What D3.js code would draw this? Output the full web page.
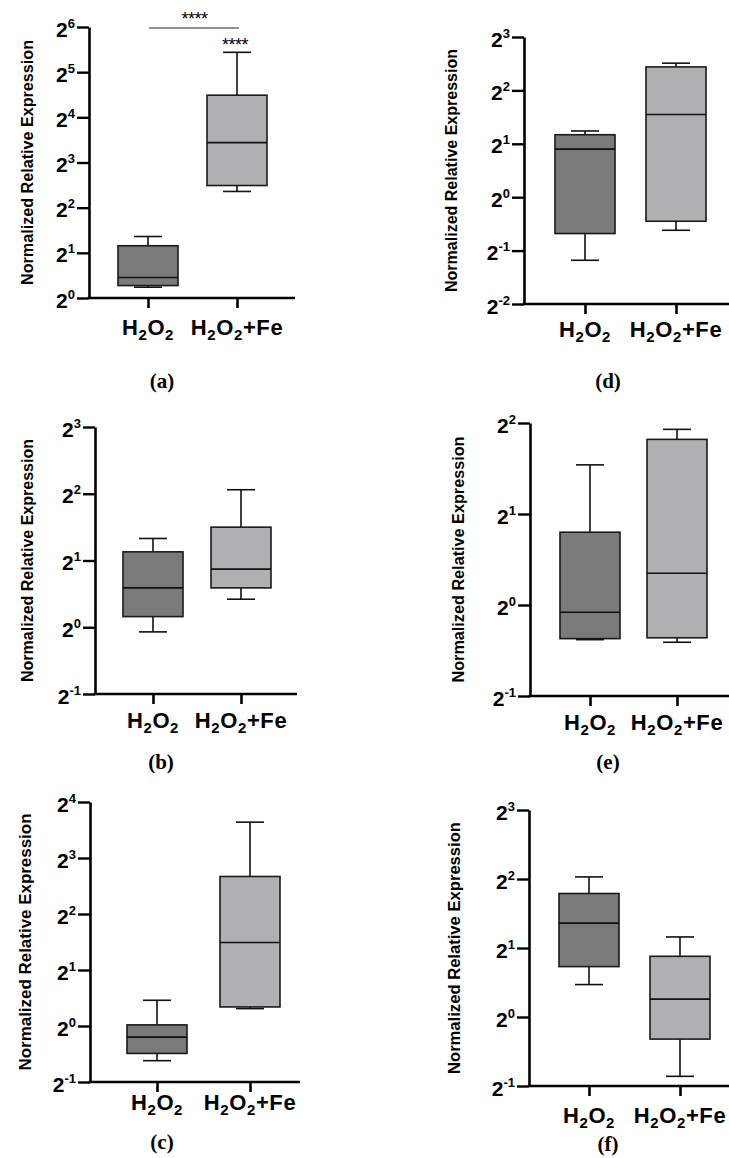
<!DOCTYPE html>
<html>
<head>
<meta charset="utf-8">
<script src="https://cdn.jsdelivr.net/npm/d3@7"></script>
<style>
  body { margin: 0; background: white; }
  svg { display: block; }
</style>
</head>
<body>
<div id="figure"></div>
<script>
var svgWidth = 729;
var svgHeight = 1158;

// groups on every x axis
var groups = ["H2O2", "H2O2+Fe"];

// box stats per panel: [min, q1, median, q3, max] for H2O2, H2O2+Fe
var statsA = [[1.18, 1.21, 1.37, 2.23, 2.57], [5.13, 5.62, 10.85, 22.47, 43.4]];
var statsB = [[0.953, 1.117, 1.505, 2.188, 2.514], [1.338, 1.505, 1.828, 2.828, 4.17]];
var statsC = [[0.651, 0.712, 0.871, 1.014, 1.375], [1.24, 1.266, 2.809, 6.364, 12.47]];
var statsD = [[0.441, 0.624, 1.866, 2.25, 2.362], [0.651, 0.732, 2.928, 5.426, 5.696]];
var statsE = [[0.768, 0.774, 0.946, 1.741, 2.908], [0.753, 0.779, 1.274, 3.531, 3.811]];
var statsF = [[1.385, 1.659, 2.567, 3.458, 4.084], [0.551, 0.801, 1.197, 1.84, 2.235]];

// y tick values (log2 axis)
var ticksA = [1, 2, 4, 8, 16, 32, 64];
var ticksB = [0.5, 1, 2, 4, 8];
var ticksC = [0.5, 1, 2, 4, 8, 16];
var ticksD = [0.25, 0.5, 1, 2, 4, 8];
var ticksE = [0.5, 1, 2, 4];
var ticksF = [0.5, 1, 2, 4, 8];

var panelLetters = ["(a)", "(b)", "(c)", "(d)", "(e)", "(f)"];
var yTitle = "Normalized Relative Expression";
var sigText = "****";

var fills = ["#7a7a7a", "#b0b0b3"];

// where each panel sits on the page
var layout = [
  { stats: statsA, ticks: ticksA, x0: 89, x1: 295, c1: 148, c2: 237, yTop: 27, yBot: 298, titleX: 27, titleLen: 245, catY: 335, letterX: 162, letterY: 388, sig: true },
  { stats: statsB, ticks: ticksB, x0: 95, x1: 297, c1: 153, c2: 241, yTop: 427, yBot: 694, titleX: 27, titleLen: 243, catY: 728, letterX: 161, letterY: 769 },
  { stats: statsC, ticks: ticksC, x0: 90, x1: 300, c1: 157, c2: 250, yTop: 802, yBot: 1082, titleX: 25, titleLen: 257, catY: 1110, letterX: 162, letterY: 1149 },
  { stats: statsD, ticks: ticksD, x0: 524, x1: 729, c1: 585, c2: 676, yTop: 37, yBot: 304, titleX: 451, titleLen: 243, catY: 337, letterX: 608, letterY: 388 },
  { stats: statsE, ticks: ticksE, x0: 530, x1: 729, c1: 590, c2: 677, yTop: 423, yBot: 696, titleX: 458, titleLen: 246, catY: 730, letterX: 608, letterY: 769 },
  { stats: statsF, ticks: ticksF, x0: 529, x1: 729, c1: 589, c2: 680, yTop: 810, yBot: 1086, titleX: 454, titleLen: 252, catY: 1123, letterX: 608, letterY: 1151 }
];

var svg = d3.select("#figure")
  .append("svg")
  .attr("width", svgWidth)
  .attr("height", svgHeight)
  .attr("style", "background-color: white");

// split "H2O2+Fe" into plain / subscript pieces
function chemParts(s) {
  var parts = [];
  var re = /(\d+)|([^\d]+)/g;
  var m;
  while ((m = re.exec(s)) !== null) {
    parts.push({ t: m[0], sub: m[1] !== undefined });
  }
  return parts;
}

function drawPanel(p, i) {
  var g = svg.append("g");

  var yScale = d3.scaleLog()
    .base(2)
    .domain([d3.min(p.ticks), d3.max(p.ticks)])
    .range([p.yBot, p.yTop]);

  var xScale = d3.scalePoint()
    .domain(groups)
    .range([p.c1, p.c2]);

  var boxW = 60;
  var capW = 28;

  // boxes
  var boxes = g.selectAll(".box")
    .data(p.stats)
    .enter()
    .append("g")
    .attr("transform", (d, j) => `translate(${xScale(groups[j])},0)`);

  // whiskers
  boxes.append("line")
    .attr("x1", 0).attr("x2", 0)
    .attr("y1", d => yScale(d[4]))
    .attr("y2", d => yScale(d[3]))
    .attr("stroke", "#111").attr("stroke-width", 1.6);
  boxes.append("line")
    .attr("x1", 0).attr("x2", 0)
    .attr("y1", d => yScale(d[1]))
    .attr("y2", d => yScale(d[0]))
    .attr("stroke", "#111").attr("stroke-width", 1.6);
  boxes.append("line")
    .attr("x1", -capW / 2).attr("x2", capW / 2)
    .attr("y1", d => yScale(d[4]))
    .attr("y2", d => yScale(d[4]))
    .attr("stroke", "#111").attr("stroke-width", 1.6);
  boxes.append("line")
    .attr("x1", -capW / 2).attr("x2", capW / 2)
    .attr("y1", d => yScale(d[0]))
    .attr("y2", d => yScale(d[0]))
    .attr("stroke", "#111").attr("stroke-width", 1.6);

  boxes.append("rect")
    .attr("x", -boxW / 2)
    .attr("width", boxW)
    .attr("y", d => yScale(d[3]))
    .attr("height", d => yScale(d[1]) - yScale(d[3]))
    .attr("fill", (d, j) => fills[j])
    .attr("stroke", "#1a1a1a")
    .attr("stroke-width", 1.6);

  // median
  boxes.append("line")
    .attr("x1", -boxW / 2).attr("x2", boxW / 2)
    .attr("y1", d => yScale(d[2]))
    .attr("y2", d => yScale(d[2]))
    .attr("stroke", "#111").attr("stroke-width", 1.6);

  // y axis
  var leftAxis = d3.axisLeft(yScale)
    .tickValues(p.ticks)
    .tickSize(12)
    .tickSizeOuter(0)
    .tickFormat("");

  var yAxis = g.append("g")
    .attr("transform", `translate(${p.x0},0)`)
    .call(leftAxis);
  yAxis.select(".domain").attr("stroke", "#000").attr("stroke-width", 2.6);
  yAxis.selectAll(".tick line").attr("stroke", "#000").attr("stroke-width", 2.4);

  // 2^n labels
  yAxis.selectAll(".tick").each(function(d) {
    var t = d3.select(this).append("text")
      .attr("x", -14)
      .attr("y", 9)
      .attr("text-anchor", "end")
      .attr("fill", "#000")
      .style("font-family", "'Liberation Sans', Arial, sans-serif")
      .style("font-weight", "bold")
      .style("font-size", "21px");
    t.append("tspan").text("2");
    t.append("tspan")
      .attr("dy", -9)
      .style("font-size", "13px")
      .text(Math.round(Math.log2(d)));
  });

  // x axis
  var bottomAxis = d3.axisBottom(xScale)
    .tickSize(10)
    .tickSizeOuter(0)
    .tickFormat("");

  var xAxis = g.append("g")
    .attr("transform", `translate(0,${p.yBot})`)
    .call(bottomAxis);
  xAxis.select(".domain").remove();
  xAxis.selectAll(".tick line").attr("stroke", "#000").attr("stroke-width", 2.6);
  g.append("line")
    .attr("x1", p.x0 - 1.3).attr("x2", p.x1)
    .attr("y1", p.yBot).attr("y2", p.yBot)
    .attr("stroke", "#000").attr("stroke-width", 2.6);

  // category labels with subscripts
  groups.forEach(function(name) {
    var t = g.append("text")
      .attr("x", xScale(name))
      .attr("y", p.catY)
      .attr("text-anchor", "middle")
      .style("font-family", "'Liberation Sans', Arial, sans-serif")
      .style("font-weight", "bold")
      .style("font-size", "22px")
      .style("letter-spacing", "0.6px");
    var shifted = false;
    chemParts(name).forEach(function(part) {
      var ts = t.append("tspan").text(part.t);
      if (part.sub) {
        ts.attr("dy", 5).style("font-size", "15px");
        shifted = true;
      } else if (shifted) {
        ts.attr("dy", -5);
        shifted = false;
      }
    });
  });

  // y title
  g.append("text")
    .attr("transform", `translate(${p.titleX + 6},${(p.yTop + p.yBot) / 2}) rotate(-90)`)
    .attr("text-anchor", "middle")
    .attr("textLength", p.titleLen)
    .attr("lengthAdjust", "spacingAndGlyphs")
    .style("font-family", "'Liberation Sans', Arial, sans-serif")
    .style("font-weight", "bold")
    .style("font-size", "16px")
    .text(yTitle);

  // panel letter
  svg.append("text")
    .attr("x", p.letterX)
    .attr("y", p.letterY)
    .attr("text-anchor", "middle")
    .style("font-family", "'Liberation Serif', 'DejaVu Serif', serif")
    .style("font-weight", "bold")
    .style("font-size", "21px")
    .text(panelLetters[i]);

  // significance marks (panel a only)
  if (p.sig) {
    var topY = yScale(d3.max(p.ticks));
    g.append("line")
      .attr("x1", xScale(groups[0]) + 1)
      .attr("x2", xScale(groups[1]) + 2)
      .attr("y1", topY + 1).attr("y2", topY + 1)
      .attr("stroke", "#222").attr("stroke-width", 1.2);
    g.append("text")
      .attr("x", (xScale(groups[0]) + xScale(groups[1])) / 2 + 2)
      .attr("y", topY - 2)
      .attr("text-anchor", "middle")
      .style("font-family", "'Liberation Sans', Arial, sans-serif")
      .style("font-size", "18px")
      .style("letter-spacing", "-0.5px")
      .text(sigText);
    g.append("text")
      .attr("x", xScale(groups[1]) - 2)
      .attr("y", yScale(p.stats[1][4]) - 1)
      .attr("text-anchor", "middle")
      .style("font-family", "'Liberation Sans', Arial, sans-serif")
      .style("font-size", "18px")
      .style("letter-spacing", "-0.5px")
      .text(sigText);
  }
}

layout.forEach(drawPanel);
</script>
</body>
</html>
